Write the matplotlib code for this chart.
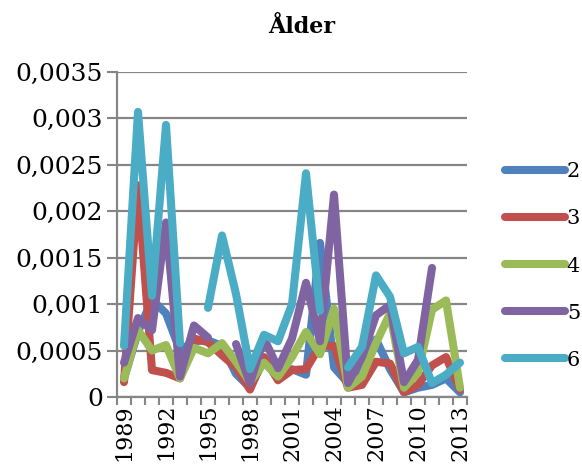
import numpy as np
import matplotlib
matplotlib.use("Agg")
import matplotlib.pyplot as plt
from matplotlib.ticker import FuncFormatter, FixedLocator

years = list(range(1989, 2014))
nan = np.nan

s2 = [0.00020, 0.00070, 0.00105, 0.00090, 0.00050, 0.00060, 0.00061, 0.00055, 0.00025, 0.00010,
      0.00040, 0.00020, 0.00030, 0.00024, 0.00166, 0.00032, 0.00015, 0.00035, 0.00062, 0.00030,
      0.00005, 0.00010, 0.00013, 0.00020, 0.00005]
s3 = [0.00016, 0.00228, 0.00029, 0.00026, 0.00020, 0.00063, 0.00059, 0.00045, 0.00032, 0.00008,
      0.00043, 0.00018, 0.00029, 0.00030, 0.00055, 0.00055, 0.00010, 0.00013, 0.00038, 0.00036,
      0.00005, 0.00013, 0.00034, 0.00043, 0.00008]
s4 = [0.00020, 0.00072, 0.00050, 0.00056, 0.00020, 0.00053, 0.00047, 0.00058, 0.00038, 0.00016,
      0.00037, 0.00022, 0.00043, 0.00070, 0.00046, 0.00095, 0.00010, 0.00022, 0.00058, 0.00090,
      0.00010, 0.00026, 0.00094, 0.00104, 0.00010]
s5 = [0.00037, 0.00085, 0.00072, 0.00188, 0.00022, 0.00077, 0.00064, nan, 0.00057, 0.00015,
      0.00063, 0.00031, 0.00063, 0.00123, 0.00060, 0.00218, 0.00015, 0.00043, 0.00088, 0.00099,
      0.00016, 0.00040, 0.00139, nan, nan]
s6 = [0.00055, 0.00307, 0.00109, 0.00293, 0.00058, nan, 0.00096, 0.00174, 0.00111, 0.00030,
      0.00067, 0.00060, 0.00100, 0.00241, 0.00093, nan, 0.00032, 0.00054, 0.00131, 0.00108,
      0.00047, 0.00054, 0.00015, 0.00024, 0.00037]

series = [("2", s2, "#4F81BD"), ("3", s3, "#C0504D"), ("4", s4, "#9BBB59"),
          ("5", s5, "#8064A2"), ("6", s6, "#4BACC6")]

serif = ["DejaVu Serif"]
fig = plt.figure(figsize=(5.82, 4.72), dpi=100)
ax = fig.add_axes([117/582, 1-397/472, 350/582, 325/472])

x = np.arange(len(years))
for name, vals, col in series:
    ax.plot(x, vals, color=col, lw=5.8, solid_capstyle="round",
            solid_joinstyle="round", label=name)

ax.set_xlim(-0.5, len(years) - 0.5)
ax.set_ylim(0, 0.0035)
yt = np.arange(0, 0.0036, 0.0005)
ax.set_yticks(yt)
ax.yaxis.set_major_formatter(FuncFormatter(
    lambda v, p: "0" if abs(v) < 1e-12 else ("%g" % round(v, 4)).replace(".", ",")))
ax.grid(axis="y", color="#868686", lw=1.6)
ax.set_axisbelow(True)

lab_idx = [i for i, y in enumerate(years) if (y - 1989) % 3 == 0]
ax.xaxis.set_major_locator(FixedLocator(lab_idx))
ax.set_xticklabels([str(years[i]) for i in lab_idx], rotation=90, family=serif, fontsize=16)
ax.xaxis.set_minor_locator(FixedLocator(np.arange(-0.5, len(years), 1.0)))
ax.tick_params(axis="x", which="major", length=0, pad=5)
ax.tick_params(axis="x", which="minor", length=6, width=1.5, color="#868686", direction="out")
ax.tick_params(axis="y", which="major", length=7, width=1.5, color="#868686", pad=3)
for lbl in ax.get_yticklabels():
    lbl.set_family(serif)
    lbl.set_fontsize(18)

for sp in ["top", "right"]:
    ax.spines[sp].set_visible(False)
for sp in ["left", "bottom"]:
    ax.spines[sp].set_color("#868686")
    ax.spines[sp].set_linewidth(1.6)

fig.text(302/582, 1-27/472, "Ålder", ha="center", va="center", family=serif,
         fontweight="bold", fontsize=16)

leg = fig.legend(loc="center left", bbox_to_anchor=(486/582, 1-266/472), frameon=False,
                 prop={"family": serif, "size": 15}, handlelength=2.9, handletextpad=0.08,
                 labelspacing=1.35)
for h in leg.get_lines():
    h.set_linewidth(5.8)
    h.set_solid_capstyle("round")

fig.savefig("out.png", dpi=100)
